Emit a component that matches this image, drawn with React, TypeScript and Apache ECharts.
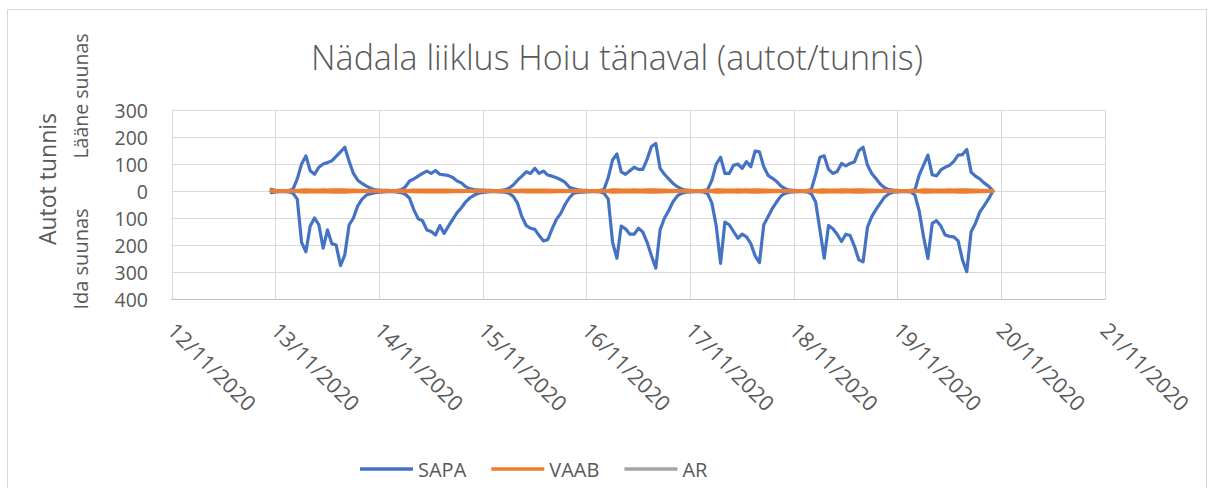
import React, { useEffect, useRef } from "react";
import * as echarts from "echarts";

const chartTitle = "Nädala liiklus Hoiu tänaval (autot/tunnis)";
const yNameMain = "Autot tunnis";
const yNameWest = "Lääne suunas";
const yNameEast = "Ida suunas";
const legendNames = ["SAPA", "VAAB", "AR"];

// hourly readings, first reading 12/11/2020 23:00 (UTC), one per hour
const firstReadingUTC = Date.UTC(2020, 10, 12, 23);
const axisStartUTC = Date.UTC(2020, 10, 12);
const axisEndUTC = Date.UTC(2020, 10, 21);
const dayMs = 86400000;
const hourMs = 3600000;
const yTickMin = -400;
const yTickMax = 300;
const yTickStep = 100;

// SAPA westbound (Lääne suunas), cars per hour
const sapaWest = [
  6,
  2, 1, 1, 2, 6, 45, 100, 130, 75, 62, 88, 100, 105, 112, 128, 145, 162, 110, 65, 40, 28, 18, 10, 4,
  3, 2, 2, 1, 2, 4, 15, 37, 45, 55, 65, 74, 65, 76, 62, 60, 57, 50, 37, 30, 16, 8, 5, 3,
  3, 2, 2, 1, 2, 4, 10, 22, 40, 55, 71, 65, 84, 65, 74, 59, 55, 49, 42, 32, 14, 8, 4, 2,
  2, 1, 1, 2, 5, 50, 115, 137, 71, 62, 75, 88, 80, 80, 118, 165, 176, 84, 62, 45, 28, 16, 7, 3,
  2, 1, 1, 2, 5, 40, 100, 125, 65, 65, 95, 100, 84, 109, 90, 148, 145, 90, 58, 47, 35, 18, 8, 3,
  2, 1, 1, 2, 5, 60, 125, 130, 80, 65, 72, 102, 93, 102, 108, 149, 162, 96, 65, 45, 25, 12, 5, 3,
  2, 1, 1, 2, 4, 60, 96, 133, 60, 56, 78, 88, 95, 110, 133, 135, 154, 70, 55, 45, 30, 18, 2,
];

// SAPA eastbound (Ida suunas), cars per hour shown below zero
const sapaEast = [
  -6,
  -3, -2, -2, -3, -8, -30, -190, -225, -130, -100, -125, -212, -144, -195, -200, -276, -237, -126, -100, -55, -30, -15, -10, -6,
  -4, -3, -2, -2, -3, -6, -12, -27, -70, -103, -110, -144, -150, -163, -128, -157, -130, -105, -80, -62, -40, -25, -15, -8,
  -5, -3, -2, -2, -3, -4, -8, -20, -45, -95, -128, -138, -142, -165, -185, -180, -140, -105, -83, -50, -25, -8, -5, -4,
  -3, -2, -2, -3, -8, -30, -190, -249, -130, -140, -160, -160, -138, -152, -190, -240, -286, -144, -101, -72, -40, -18, -8, -4,
  -3, -2, -2, -3, -10, -45, -130, -268, -115, -125, -150, -175, -160, -170, -195, -240, -265, -125, -95, -64, -40, -18, -8, -4,
  -3, -2, -2, -3, -10, -40, -144, -249, -128, -140, -160, -187, -160, -165, -205, -255, -262, -135, -95, -68, -45, -22, -10, -4,
  -3, -2, -2, -3, -15, -75, -170, -250, -120, -110, -130, -163, -168, -170, -185, -255, -299, -151, -120, -78, -55, -30, -2,
];

// VAAB westbound / eastbound
const vaabWest = [
  0,
  0, 0, 0, 0, 0, 1, 2, 3, 2, 2, 2, 3, 2, 3, 3, 3, 3, 2, 2, 1, 1, 0, 0, 0,
  0, 0, 0, 0, 0, 0, 1, 1, 2, 2, 2, 2, 2, 2, 2, 2, 2, 1, 1, 1, 0, 0, 0, 0,
  0, 0, 0, 0, 0, 0, 0, 1, 1, 2, 2, 2, 2, 2, 2, 2, 1, 1, 1, 1, 0, 0, 0, 0,
  0, 0, 0, 0, 0, 1, 3, 3, 2, 2, 2, 3, 2, 2, 3, 3, 3, 2, 2, 1, 1, 0, 0, 0,
  0, 0, 0, 0, 0, 1, 3, 3, 2, 2, 2, 3, 2, 3, 2, 3, 3, 2, 2, 1, 1, 0, 0, 0,
  0, 0, 0, 0, 0, 1, 2, 3, 2, 2, 2, 3, 3, 2, 3, 3, 3, 2, 2, 1, 1, 0, 0, 0,
  0, 0, 0, 0, 0, 1, 3, 3, 2, 2, 2, 2, 3, 2, 3, 3, 3, 2, 2, 1, 1, 0, 0,
];
const vaabEast = [
  0,
  0, 0, 0, 0, 0, -1, -2, -3, -2, -2, -2, -2, -2, -3, -3, -3, -3, -2, -1, -1, -1, 0, 0, 0,
  0, 0, 0, 0, 0, 0, -1, -1, -1, -2, -2, -2, -2, -2, -2, -2, -2, -1, -1, -1, 0, 0, 0, 0,
  0, 0, 0, 0, 0, 0, 0, -1, -1, -1, -2, -2, -2, -2, -2, -2, -2, -1, -1, -1, 0, 0, 0, 0,
  0, 0, 0, 0, 0, -1, -3, -3, -2, -2, -2, -2, -2, -2, -3, -3, -3, -2, -2, -1, -1, 0, 0, 0,
  0, 0, 0, 0, 0, -1, -3, -3, -2, -2, -2, -3, -2, -2, -3, -3, -3, -2, -2, -1, -1, 0, 0, 0,
  0, 0, 0, 0, 0, -1, -3, -3, -2, -2, -2, -3, -2, -2, -3, -3, -3, -2, -2, -1, -1, 0, 0, 0,
  0, 0, 0, 0, 0, -1, -3, -3, -2, -2, -2, -2, -2, -2, -3, -3, -3, -2, -2, -1, -1, 0, 0,
];
// AR
const arValues = [
  0,
  0, 0, 0, 0, 0, 0, 0, 0, 0, 0, 0, 0, 0, 0, 0, 0, 0, 0, 0, 0, 0, 0, 0, 0,
  0, 0, 0, 0, 0, 0, 0, 0, 0, 0, 0, 0, 0, 0, 0, 0, 0, 0, 0, 0, 0, 0, 0, 0,
  0, 0, 0, 0, 0, 0, 0, 0, 0, 0, 0, 0, 0, 0, 0, 0, 0, 0, 0, 0, 0, 0, 0, 0,
  0, 0, 0, 0, 0, 0, 0, 0, 0, 0, 0, 0, 0, 0, 0, 0, 0, 0, 0, 0, 0, 0, 0, 0,
  0, 0, 0, 0, 0, 0, 0, 0, 0, 0, 0, 0, 0, 0, 0, 0, 0, 0, 0, 0, 0, 0, 0, 0,
  0, 0, 0, 0, 0, 0, 0, 0, 0, 0, 0, 0, 0, 0, 0, 0, 0, 0, 0, 0, 0, 0, 0, 0,
  0, 0, 0, 0, 0, 0, 0, 0, 0, 0, 0, 0, 0, 0, 0, 0, 0, 0, 0, 0, 0, 0, 0,
];

const COLORS = { SAPA: "#4472C4", VAAB: "#ED7D31", AR: "#A5A5A5" };
const TEXT = "#595959";
const FONT = '"Open Sans", "DejaVu Sans", sans-serif';

const pair = (vals: number[]) => vals.map((v, i) => [firstReadingUTC + i * hourMs, v]);
const pad = (n: number) => (n < 10 ? "0" + n : "" + n);
const fmtDate = (v: number) => {
  const d = new Date(v);
  return pad(d.getUTCDate()) + "/" + pad(d.getUTCMonth() + 1) + "/" + d.getUTCFullYear();
};

export default function App() {
  const ref = useRef<HTMLDivElement>(null);
  useEffect(() => {
    document.body.style.margin = "0";
    if (!ref.current) return;
    const chart = echarts.init(ref.current, null, { renderer: "svg" });
    const line = (name: string, data: number[], width: number, z: number) => ({
      name,
      type: "line",
      data: pair(data),
      showSymbol: false,
      symbol: "none",
      z,
      lineStyle: { color: (COLORS as any)[name], width, cap: "round", join: "round" },
      itemStyle: { color: (COLORS as any)[name] },
    });
    chart.setOption({
      animation: false,
      backgroundColor: "#ffffff",
      title: {
        text: chartTitle,
        left: 612,
        textAlign: "center",
        top: 35,
        textStyle: { fontFamily: FONT, fontSize: 34, fontWeight: 300, color: TEXT },
      },
      legend: {
        data: legendNames.map((n) => ({ name: n, icon: "rect" })),
        left: 355,
        top: 454,
        itemWidth: 53,
        itemHeight: 3.5,
        itemGap: 25,
        textStyle: { fontFamily: FONT, fontSize: 20, color: TEXT, padding: [0, 0, 0, 0] },
      },
      grid: { left: 172, right: 108, top: 110, bottom: 189, containLabel: false },
      xAxis: {
        type: "value",
        min: axisStartUTC,
        max: axisEndUTC,
        interval: dayMs,
        axisLine: { show: true, onZero: false, lineStyle: { color: "#bfbfbf", width: 1 } },
        axisTick: { show: false },
        splitLine: { show: true, lineStyle: { color: "#d9d9d9", width: 1 } },
        axisLabel: {
          rotate: -45,
          margin: 27,
          formatter: fmtDate,
          fontFamily: FONT,
          fontSize: 21.5,
          color: TEXT,
          showMinLabel: true,
          showMaxLabel: true,
        },
      },
      yAxis: {
        type: "value",
        min: yTickMin,
        max: yTickMax,
        interval: yTickStep,
        axisLine: { show: true, lineStyle: { color: "#d9d9d9", width: 1 } },
        axisTick: { show: false },
        splitLine: { show: true, lineStyle: { color: "#d9d9d9", width: 1 } },
        axisLabel: {
          formatter: (v: number) => String(Math.abs(v)),
          fontFamily: FONT,
          fontSize: 19.5,
          color: TEXT,
          margin: 24,
        },
      },
      graphic: [
        {
          type: "rect",
          shape: { x: 7.5, y: 9.5, width: 1199, height: 520 },
          style: { fill: "none", stroke: "#d9d9d9", lineWidth: 1 },
          silent: true,
        },
        {
          type: "text",
          x: 47,
          y: 179,
          rotation: Math.PI / 2,
          style: { text: yNameMain, fontFamily: FONT, fontSize: 23, fill: TEXT, align: "center", verticalAlign: "middle", textAlign: "center", textVerticalAlign: "middle" },
        },
        {
          type: "text",
          x: 80,
          y: 96,
          rotation: Math.PI / 2,
          style: { text: yNameWest, fontFamily: FONT, fontSize: 19.5, fill: TEXT, align: "center", verticalAlign: "middle", textAlign: "center", textVerticalAlign: "middle" },
        },
        {
          type: "text",
          x: 80,
          y: 259,
          rotation: Math.PI / 2,
          style: { text: yNameEast, fontFamily: FONT, fontSize: 20, fill: TEXT, align: "center", verticalAlign: "middle", textAlign: "center", textVerticalAlign: "middle" },
        },
      ],
      series: [
        line("SAPA", sapaWest, 3.2, 2),
        line("SAPA", sapaEast, 3.2, 2),
        line("AR", arValues, 3, 3),
        line("VAAB", vaabWest, 4, 4),
        line("VAAB", vaabEast, 4, 4),
      ],
    });
    return () => chart.dispose();
  }, []);
  return <div ref={ref} style={{ width: 1213, height: 488 }} />;
}
